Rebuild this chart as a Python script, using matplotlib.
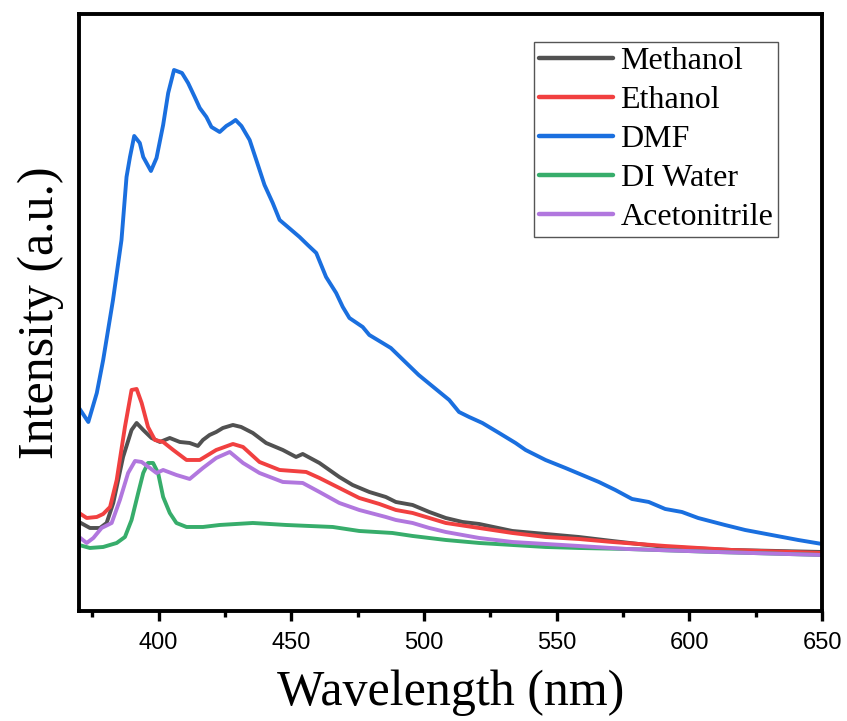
import numpy as np
import matplotlib.pyplot as plt
from matplotlib.ticker import MultipleLocator, NullLocator

# PL spectra of the sample dispersed in different solvents (arbitrary units)
wl_dmf = [370, 373.5, 376.7, 379.1, 382.8, 386, 387.9, 389.2, 390.8, 392.9, 394.2,
          397.1, 399.2, 401.7, 403.6, 405.8, 408.8, 411.1, 413.6, 415.5, 418, 419.9,
          423, 425.5, 427.4, 429, 431.2, 434.3, 436.8, 439.9, 443, 445.6, 448.7,
          453.1, 456.2, 459.4, 463.1, 466.9, 469.4, 471.9, 476.9, 479.4, 484.4,
          487.5, 498, 509.5, 513.2, 517, 522, 528.3, 534.5, 538.3, 545.8, 553.3,
          559.6, 565.9, 572.1, 578.4, 584.7, 590.9, 597.2, 603.3, 613.4, 621, 631,
          641, 650]
dmf = [203, 189, 218, 251, 311, 371, 434, 454, 475, 468, 454,
       440, 453, 486, 518, 541, 538, 528, 514, 503, 494, 484,
       479, 485, 488, 491, 485, 471, 451, 426, 408, 391, 384,
       374, 366, 358, 334, 318, 304, 293, 284, 276, 268,
       263, 236, 211, 199, 194, 188, 178, 168, 161, 151, 143,
       136, 129, 121, 112, 109, 102, 99, 93, 86, 81, 76,
       71, 67]

wl_meoh = [370, 374.1, 377.9, 380.4, 382.9, 386.6, 389.8, 391.7, 394.2, 397.3, 400.5,
           404.2, 408, 411.7, 414.8, 416.7, 419.2, 421.7, 424.2, 428, 431.1, 435.5,
           440.5, 446.8, 451.8, 454.3, 460.6, 468.1, 473.1, 479.4, 485.6, 489.4,
           495.7, 502, 508.2, 514.5, 520.8, 533.3, 545.8, 558.3, 570.9, 590.9,
           616, 650]
meoh = [89, 83, 83, 88, 108, 154, 181, 188, 181, 173, 169,
        173, 169, 168, 165, 171, 176, 179, 183, 186, 184, 178,
        168, 161, 154, 157, 148, 134, 126, 119, 114, 109,
        106, 99, 93, 89, 87, 80, 77, 74, 70, 64,
        61, 59]

wl_etoh = [370, 372.9, 376.7, 379.1, 381.7, 384.2, 387.3, 389.8, 391.7, 393.6, 396,
           398.6, 401.7, 405.5, 410.5, 415.5, 421.7, 428, 431.8, 438, 445.6, 455.6,
           460.6, 468.1, 475.6, 483.2, 489.4, 495.7, 502, 508.2, 520.8, 533.3,
           545.8, 558.3, 570.9, 590.9, 616, 650]
etoh = [98, 93, 94, 97, 104, 131, 184, 221, 222, 208, 184,
        171, 169, 161, 151, 151, 161, 167, 164, 149, 141, 139,
        133, 123, 113, 107, 101, 98, 93, 88, 83, 78,
        74, 72, 69, 65, 61, 58]

wl_water = [370, 374.1, 379.1, 384.2, 387.3, 389.8, 392.3, 394.2, 396, 397.9, 399.8,
            401.7, 404.2, 406.7, 410.5, 416.7, 423, 435.5, 441.8, 448, 456.8,
            465.6, 475.6, 488.1, 495.7, 508.2, 520.8, 533.3, 545.8, 558.3, 576.5,
            610, 650]
water = [66, 63, 64, 68, 74, 91, 118, 138, 148, 148, 138,
         114, 98, 88, 84, 84, 86, 88, 87, 86, 85,
         84, 80, 78, 75, 71, 68, 66, 64, 63, 62,
         59, 56]

wl_mecn = [370, 372.9, 375.4, 378.5, 382.3, 385.4, 388.5, 391.1, 393.6, 396.7, 399.2,
           401.7, 406.7, 411.7, 416.7, 421.7, 426.8, 431.8, 438, 446.8, 454.3,
           460.6, 468.1, 475.6, 485.6, 489.4, 495.7, 502, 508.2, 520.8, 533.3,
           545.8, 558.3, 576.5, 610, 650]
mecn = [74, 68, 73, 83, 88, 111, 138, 150, 149, 143, 138,
        141, 136, 132, 143, 153, 159, 148, 138, 129, 128,
        119, 108, 101, 94, 91, 88, 83, 79, 73, 69,
        67, 65, 62, 59, 56]

series = [
    ("Methanol", wl_meoh, meoh, "#515151"),
    ("Ethanol", wl_etoh, etoh, "#F14040"),
    ("DMF", wl_dmf, dmf, "#1A6FDF"),
    ("DI Water", wl_water, water, "#37AD6B"),
    ("Acetonitrile", wl_mecn, mecn, "#B177DE"),
]

fig = plt.figure(figsize=(8.47, 7.21), dpi=100)
ax = fig.add_axes([0.0933, 0.1526, 0.8772, 0.828])

for name, x, y, c in series:
    ax.plot(x, y, color=c, lw=2.8, label=name,
            solid_joinstyle="round", solid_capstyle="round")

ax.set_xlim(370, 650)
ax.set_ylim(0, 597)
ax.xaxis.set_major_locator(MultipleLocator(50))
ax.xaxis.set_minor_locator(MultipleLocator(25))
ax.yaxis.set_major_locator(NullLocator())
ax.yaxis.set_minor_locator(NullLocator())
ax.tick_params(axis="x", which="major", direction="out", length=7, width=2.4,
               labelsize=17, pad=8)
ax.tick_params(axis="x", which="minor", direction="out", length=4, width=2.4)
for lbl in ax.get_xticklabels():
    lbl.set_family("Liberation Sans")
for sp in ax.spines.values():
    sp.set_linewidth(2.8)

ax.set_xlabel("Wavelength (nm)", family="Liberation Serif", fontsize=36, labelpad=11)
ax.set_ylabel("Intensity (a.u.)", family="Liberation Serif", fontsize=36, labelpad=11)

leg = ax.legend(loc="upper right", bbox_to_anchor=(0.941, 0.953), borderaxespad=0,
                prop={"family": "Liberation Serif", "size": 23}, fancybox=False,
                handlelength=2.3, handletextpad=0.25, labelspacing=0.3,
                borderpad=0.15, framealpha=1)
leg.get_frame().set_edgecolor("#555555")
leg.get_frame().set_linewidth(1.0)
for h in leg.get_lines():
    h.set_linewidth(3.2)

fig.savefig("out.png", dpi=100)
